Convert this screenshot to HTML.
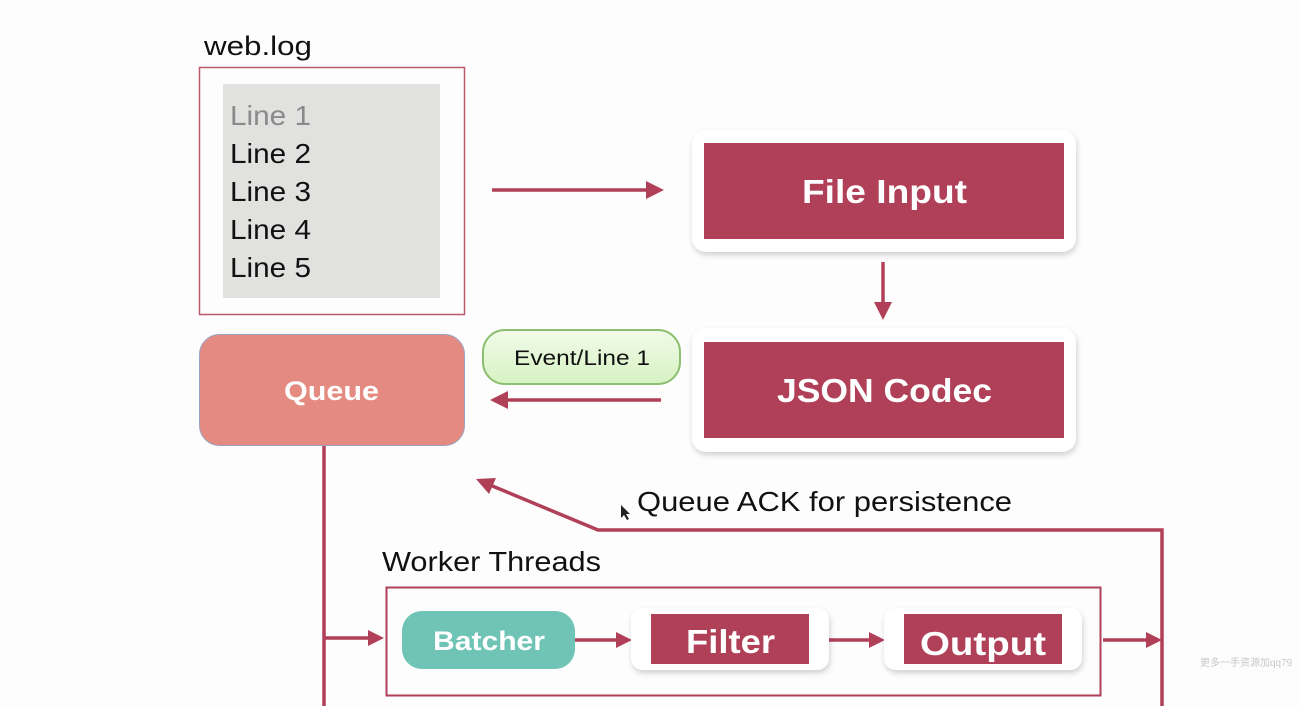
<!DOCTYPE html>
<html><head><meta charset="utf-8"><style>
html,body{margin:0;padding:0;background:#fdfdfd;}
svg{display:block;font-family:"Liberation Sans","Noto Sans CJK SC",sans-serif;}
</style></head><body>
<svg width="1302" height="706" viewBox="0 0 1302 706" xmlns="http://www.w3.org/2000/svg">
<defs>
<filter id="sh" x="-10%" y="-10%" width="120%" height="130%"><feDropShadow dx="1" dy="3" stdDeviation="3" flood-color="#000" flood-opacity="0.18"/></filter>
<linearGradient id="gr" x1="0" y1="0" x2="0" y2="1"><stop offset="0" stop-color="#f2fbea"/><stop offset="1" stop-color="#d6f2c2"/></linearGradient>
</defs>
<rect width="1302" height="706" fill="#fdfdfd"/>
<g fill="none" stroke="#b04058" stroke-width="3.5">
<line x1="492" y1="190" x2="650" y2="190"/>
<line x1="883" y1="262" x2="883" y2="306"/>
<line x1="661" y1="400" x2="504" y2="400"/>
<line x1="324" y1="446" x2="324" y2="706"/>
<line x1="324" y1="638" x2="370" y2="638"/>
<polyline points="1162,706 1162,530 598,530 490,485"/>
<line x1="575" y1="640" x2="618" y2="640"/>
<line x1="829" y1="640" x2="871" y2="640"/>
<line x1="1103" y1="640" x2="1148" y2="640"/>
</g>
<g fill="#b04058">
<polygon points="664,190 646,181 646,199"/>
<polygon points="883,320 874,302 892,302"/>
<polygon points="490,400 508,391 508,409"/>
<polygon points="384,638 368,630 368,646"/>
<polygon points="476,479 496,478 489,494"/>
<polygon points="632,640 616,632 616,648"/>
<polygon points="885,640 869,632 869,648"/>
<polygon points="1162,640 1146,632 1146,648"/>
</g>
<text x="204" y="55" font-size="27" fill="#111" textLength="108" lengthAdjust="spacingAndGlyphs">web.log</text>
<rect x="199.5" y="67.5" width="265" height="247" fill="none" stroke="#b8596c" stroke-width="1.5"/>
<rect x="223" y="84" width="217" height="214" fill="#e1e1df"/>
<g font-size="28">
<text x="230" y="125" fill="#8a8a8a" textLength="81" lengthAdjust="spacingAndGlyphs">Line 1</text>
<text x="230" y="163" fill="#111" textLength="81" lengthAdjust="spacingAndGlyphs">Line 2</text>
<text x="230" y="201" fill="#111" textLength="81" lengthAdjust="spacingAndGlyphs">Line 3</text>
<text x="230" y="239" fill="#111" textLength="81" lengthAdjust="spacingAndGlyphs">Line 4</text>
<text x="230" y="277" fill="#111" textLength="81" lengthAdjust="spacingAndGlyphs">Line 5</text>
</g>
<rect x="692" y="130" width="384" height="122" rx="14" fill="#fff" filter="url(#sh)"/>
<rect x="704" y="143" width="360" height="96" fill="#b04058"/>
<text x="802" y="203" font-size="33" font-weight="bold" fill="#fff" textLength="165" lengthAdjust="spacingAndGlyphs">File Input</text>
<rect x="692" y="328" width="384" height="124" rx="14" fill="#fff" filter="url(#sh)"/>
<rect x="704" y="342" width="360" height="96" fill="#b04058"/>
<text x="777" y="402" font-size="33" font-weight="bold" fill="#fff" textLength="215" lengthAdjust="spacingAndGlyphs">JSON Codec</text>
<rect x="483" y="330" width="197" height="54" rx="22" fill="url(#gr)" stroke="#8cc070" stroke-width="2"/>
<text x="514" y="365" font-size="21" fill="#111" textLength="136" lengthAdjust="spacingAndGlyphs">Event/Line 1</text>
<rect x="199.5" y="334.5" width="265" height="111" rx="20" fill="#e48a80" stroke="#9aa3c2" stroke-width="1"/>
<text x="284" y="400" font-size="27" font-weight="bold" fill="#fff" textLength="95" lengthAdjust="spacingAndGlyphs">Queue</text>
<text x="637" y="511" font-size="28" fill="#111" textLength="375" lengthAdjust="spacingAndGlyphs">Queue ACK for persistence</text>
<path d="M621 505 l0 13 l3 -3 l3 5 l2 -1 l-3 -5 l4 0 z" fill="#222"/>
<text x="382" y="571" font-size="28" fill="#111" textLength="219" lengthAdjust="spacingAndGlyphs">Worker Threads</text>
<rect x="386.5" y="587.5" width="714" height="108" fill="none" stroke="#b04058" stroke-width="2"/>
<rect x="402" y="611" width="173" height="58" rx="20" fill="#6fc4b6"/>
<text x="433" y="650" font-size="27" font-weight="bold" fill="#fff" textLength="112" lengthAdjust="spacingAndGlyphs">Batcher</text>
<rect x="631" y="608" width="198" height="62" rx="12" fill="#fff" filter="url(#sh)"/>
<rect x="651" y="614" width="158" height="50" fill="#b04058"/>
<text x="686" y="653" font-size="33" font-weight="bold" fill="#fff" textLength="89" lengthAdjust="spacingAndGlyphs">Filter</text>
<rect x="884" y="608" width="198" height="62" rx="12" fill="#fff" filter="url(#sh)"/>
<rect x="904" y="614" width="158" height="50" fill="#b04058"/>
<text x="920" y="655" font-size="33" font-weight="bold" fill="#fff" textLength="126" lengthAdjust="spacingAndGlyphs">Output</text>
<text x="1200" y="666" font-size="10" fill="#c8c8c8">更多一手资源加qq79</text>
</svg>
</body></html>
